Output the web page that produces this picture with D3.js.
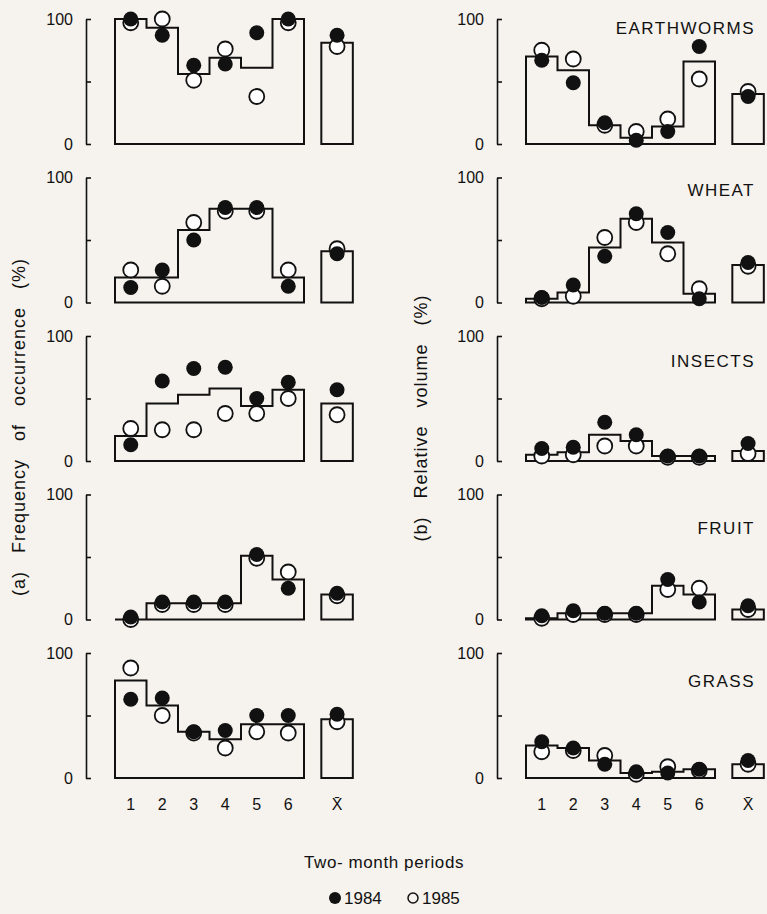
<!DOCTYPE html>
<html>
<head>
<meta charset="utf-8">
<script src="https://cdn.jsdelivr.net/npm/d3@7"></script>
<style>
  body { margin: 0; background: #f6f2ed; }
  svg { display: block; }
  text { font-family: "Liberation Sans", Arial, sans-serif; fill: #111; }
</style>
</head>
<body>
<svg id="chart" width="767" height="914"></svg>
<script>
// food items, one row each
const foods = ["EARTHWORMS", "WHEAT", "INSECTS", "FRUIT", "GRASS"];
const periods = [1, 2, 3, 4, 5, 6];
const periodLabels = ["1", "2", "3", "4", "5", "6"];
const meanLabel = "X\u0304";

// (a) frequency of occurrence (%), both years pooled (the stepped outline)
const freqPooled = [
    [100, 93, 56, 69, 61, 100],
    [20, 20, 58, 75, 75, 20],
    [20, 46, 53, 58, 44, 57],
    [0, 13, 13, 13, 51, 32],
    [78, 58, 37, 31, 43, 43]
];
const freqPooledMean = [81, 41, 46, 20, 47];
const freq1984 = [
    [100, 87, 63, 64, 89, 100],
    [12, 26, 50, 76, 76, 13],
    [13, 64, 74, 75, 50, 63],
    [2, 14, 14, 14, 52, 25],
    [63, 64, 37, 38, 50, 50]
];
const freq1984Mean = [87, 39, 57, 21, 51];
const freq1985 = [
    [97, 100, 51, 76, 38, 97],
    [26, 13, 64, 73, 73, 26],
    [26, 25, 25, 38, 38, 50],
    [0, 12, 12, 12, 49, 38],
    [88, 50, 36, 24, 37, 36]
];
const freq1985Mean = [78, 43, 37, 19, 45];

// (b) relative volume (%)
const volPooled = [
    [70, 59, 15, 5, 14, 66],
    [3, 8, 44, 67, 48, 7],
    [5, 7, 21, 16, 4, 4],
    [1, 5, 5, 5, 27, 20],
    [26, 24, 14, 4, 5, 7]
];
const volPooledMean = [40, 30, 8, 8, 11];
const vol1984 = [
    [67, 49, 17, 3, 10, 78],
    [4, 14, 37, 71, 56, 3],
    [10, 11, 31, 21, 4, 4],
    [3, 7, 5, 5, 32, 14],
    [29, 24, 11, 5, 4, 7]
];
const vol1984Mean = [38, 32, 14, 11, 14];
const vol1985 = [
    [75, 68, 15, 10, 20, 52],
    [3, 5, 52, 64, 39, 11],
    [4, 5, 12, 12, 3, 3],
    [1, 4, 4, 4, 24, 25],
    [21, 22, 18, 3, 9, 6]
];
const vol1985Mean = [42, 29, 6, 8, 11];

const yTicks = [0, 50, 100];
const years = ["1984", "1985"];

// layout
const svg = d3.select("#chart");
const panelH = 125;
const rowY = d3.scalePoint().domain(foods).range([19, 653]);
const x = d3.scaleLinear().domain([0.5, 6.5]).range([29, 218]);
const meanPos = 7.55;
const titleDy = [9, 12, 25, 33, 28];
const r = 7.5;

const columns = [
    { left: 86, pooled: freqPooled, pooledMean: freqPooledMean,
      a: freq1984, aMean: freq1984Mean, b: freq1985, bMean: freq1985Mean, titles: false },
    { left: 497, pooled: volPooled, pooledMean: volPooledMean,
      a: vol1984, aMean: vol1984Mean, b: vol1985, bMean: vol1985Mean, titles: true }
];

columns.forEach(col => {
    foods.forEach((food, i) => {
        const top = rowY(food);
        const y = d3.scaleLinear().domain([0, 100]).range([top + panelH, top]);
        const g = svg.append("g").attr("transform", `translate(${col.left},0)`);

        g.append("g")
            .call(d3.axisLeft(y).tickValues(yTicks).tickSizeInner(-5).tickSizeOuter(0)
                .tickPadding(13).tickFormat(d => d === 50 ? "" : d))
            .call(a => a.select(".domain").attr("stroke", "#111").attr("stroke-width", 1.6))
            .call(a => a.selectAll("line").attr("stroke", "#111").attr("stroke-width", 1.6))
            .call(a => a.selectAll("text").attr("font-size", 16)
                .attr("font-family", "Liberation Sans, Arial, sans-serif").attr("fill", "#111"));

        // stepped outline for the six periods
        const vals = col.pooled[i];
        let d = `M${x(0.5)},${y(0)}`;
        vals.forEach((v, k) => {
            d += `L${x(periods[k] - 0.5)},${y(v)}L${x(periods[k] + 0.5)},${y(v)}`;
        });
        d += `L${x(6.5)},${y(0)}Z`;
        g.append("path").attr("d", d)
            .attr("fill", "none").attr("stroke", "#111").attr("stroke-width", 2)
            .attr("stroke-linejoin", "miter");

        // mean bar
        g.append("rect")
            .attr("x", x(meanPos - 0.5)).attr("width", x(meanPos + 0.5) - x(meanPos - 0.5))
            .attr("y", y(col.pooledMean[i])).attr("height", y(0) - y(col.pooledMean[i]))
            .attr("fill", "none").attr("stroke", "#111").attr("stroke-width", 2);

        // 1985 open circles first, 1984 filled on top
        const open = col.b[i].map((v, k) => ({ p: periods[k], v }))
            .concat([{ p: meanPos, v: col.bMean[i] }]);
        const filled = col.a[i].map((v, k) => ({ p: periods[k], v }))
            .concat([{ p: meanPos, v: col.aMean[i] }]);

        g.selectAll(null).data(open).join("circle")
            .attr("cx", dd => x(dd.p)).attr("cy", dd => y(dd.v)).attr("r", r)
            .attr("fill", "#fff").attr("stroke", "#111").attr("stroke-width", 1.8);
        g.selectAll(null).data(filled).join("circle")
            .attr("cx", dd => x(dd.p)).attr("cy", dd => y(dd.v)).attr("r", r)
            .attr("fill", "#111");

        if (col.titles) {
            g.append("text")
                .attr("x", 258).attr("y", top + titleDy[i] + 6)
                .attr("text-anchor", "end")
                .attr("font-size", 17).attr("letter-spacing", 1.5)
                .text(food);
        }

        if (i === foods.length - 1) {
            const xg = g.append("g");
            xg.selectAll(null).data(periodLabels).join("text")
                .attr("x", (t, k) => x(periods[k])).attr("y", y(0) + 32)
                .attr("text-anchor", "middle").attr("font-size", 16)
                .text(t => t);
            xg.append("text")
                .attr("x", x(meanPos)).attr("y", y(0) + 32)
                .attr("text-anchor", "middle").attr("font-size", 16)
                .text(meanLabel);
        }
    });
});

// axis titles
svg.append("text")
    .attr("transform", "translate(25,427) rotate(-90)")
    .attr("text-anchor", "middle").attr("font-size", 18)
    .attr("letter-spacing", 1).attr("word-spacing", 12)
    .text("(a) Frequency of occurrence (%)");
svg.append("text")
    .attr("transform", "translate(427,418) rotate(-90)")
    .attr("text-anchor", "middle").attr("font-size", 18)
    .attr("letter-spacing", 1).attr("word-spacing", 12)
    .text("(b) Relative volume (%)");

svg.append("text")
    .attr("x", 384).attr("y", 868)
    .attr("text-anchor", "middle").attr("font-size", 17).attr("letter-spacing", 0.6)
    .text("Two- month periods");

// legend
const legendX = [335, 413];
svg.append("circle").attr("cx", legendX[0]).attr("cy", 898).attr("r", 6).attr("fill", "#111");
svg.append("circle").attr("cx", legendX[1]).attr("cy", 898).attr("r", 5)
    .attr("fill", "none").attr("stroke", "#111").attr("stroke-width", 1.5);
svg.selectAll(null).data(years).join("text")
    .attr("x", (t, k) => legendX[k] + 9).attr("y", 904)
    .attr("font-size", 17)
    .text(t => t);
</script>
</body>
</html>
